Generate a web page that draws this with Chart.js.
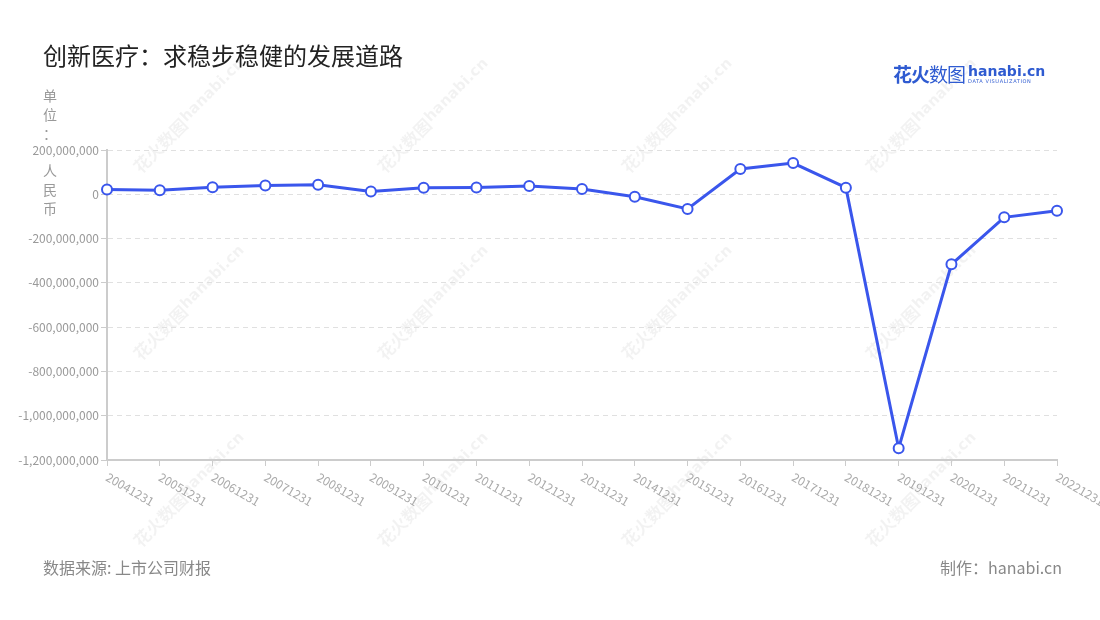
<!DOCTYPE html>
<html>
<head>
<meta charset="utf-8">
<script src="https://cdn.jsdelivr.net/npm/chart.js@4"></script>
<style>
  body { margin: 0; background: #fff; font-family: "Noto Sans CJK SC", "Noto Sans", sans-serif; }
  #wrap { position: relative; width: 1100px; height: 620px; overflow: hidden; }
  #c { position: absolute; left: 0; top: 0; }
  .title { position: absolute; left: 43px; top: 37px; font-size: 24px; color: #222; }
  .logo { position: absolute; left: 893px; top: 60px; white-space: nowrap; }
  .logo .cn { font-size: 19px; font-weight: bold; color: #2f5bd1; letter-spacing: -1px; vertical-align: top; }
  .logo .cn span { font-weight: normal; }
  .logo .en { display: inline-block; margin-left: 3px; vertical-align: top; line-height: 1; }
  .logo .en b { font-family: "DejaVu Sans", sans-serif; font-size: 14px; color: #2f5bd1; display: block; margin-top: 4px; }
  .logo .en i { font-style: normal; font-family: "DejaVu Sans", sans-serif; font-size: 5px; color: #2f5bd1; letter-spacing: 0.6px; display: block; margin-top: 1px; }
  .foot { position: absolute; top: 555px; font-size: 16px; color: #888; }
</style>
</head>
<body>
<div id="wrap">
  <canvas id="c" width="1100" height="620"></canvas>
  <div class="title">创新医疗：求稳步稳健的发展道路</div>
  <div class="logo"><span class="cn">花火<span>数图</span></span><span class="en"><b>hanabi.cn</b><i>DATA VISUALIZATION</i></span></div>
  <div class="foot" style="left:43px">数据来源: 上市公司财报</div>
  <div class="foot" style="right:38px">制作：hanabi.cn</div>
</div>
<script>
const labels = ["20041231", "20051231", "20061231", "20071231", "20081231", "20091231", "20101231",
  "20111231", "20121231", "20131231", "20141231", "20151231", "20161231", "20171231", "20181231",
  "20191231", "20201231", "20211231", "20221231"];
const netProfit = [22000000, 18000000, 32000000, 40000000, 43000000, 13000000, 30000000,
  31000000, 37000000, 24000000, -11000000, -66000000, 114000000, 141000000, 30000000,
  -1147000000, -316000000, -104000000, -74000000];
const yTitle = "单位： 人民币";

const ctx = document.getElementById("c");

// watermark behind everything
const watermark = {
  id: "watermark",
  beforeDraw(chart) {
    const c = chart.ctx;
    c.save();
    c.fillStyle = "rgba(0,0,0,0.05)";
    for (const y of [123, 310, 497]) {
      for (const x of [183, 427, 671, 915]) {
        c.save();
        c.translate(x, y);
        c.rotate(-Math.PI / 4);
        c.textAlign = "center";
        c.textBaseline = "middle";
        c.font = "bold 17px 'Noto Sans CJK SC'";
        c.fillText("花火数图", -32, 0);
        c.font = "bold 15px 'DejaVu Sans'";
        c.fillText("hanabi.cn", 44, -2);
        c.restore();
      }
    }
    c.restore();
  }
};

// rotated x labels hanging down-right from each tick, and the vertical unit title
const extras = {
  id: "extras",
  afterDraw(chart) {
    const c = chart.ctx;
    const xs = chart.scales.x;
    c.save();
    c.font = "12px 'Noto Sans CJK SC'";
    c.fillStyle = "#aaa";
    c.textAlign = "left";
    c.textBaseline = "middle";
    labels.forEach((lab, i) => {
      const x = xs.getPixelForTick(i);
      c.save();
      c.translate(x, xs.top + 16);
      c.rotate(Math.PI / 6);
      c.fillText(lab, 0, 0);
      c.restore();
    });
    c.font = "14px 'Noto Sans CJK SC'";
    c.fillStyle = "#999";
    c.textAlign = "center";
    [...yTitle].forEach((ch, i) => {
      c.fillText(ch, 50, 96 + i * 18.7);
    });
    c.restore();
  }
};

new Chart(ctx, {
  type: "line",
  data: {
    labels: labels,
    datasets: [
      {
        label: "净利润",
        data: netProfit,
        borderColor: "#3a56ec",
        borderWidth: 3,
        backgroundColor: "#fff",
        pointBackgroundColor: "#fff",
        pointBorderColor: "#3a56ec",
        pointBorderWidth: 2,
        pointRadius: 5,
        tension: 0,
        fill: false
      }
    ]
  },
  options: {
    responsive: false,
    animation: false,
    layout: { padding: { left: 0, top: 150, right: 43, bottom: 150 } },
    plugins: {
      legend: { display: false },
      tooltip: { enabled: false }
    },
    scales: {
      x: {
        offset: false,
        grid: { drawOnChartArea: false, drawTicks: true, tickLength: 6, color: "#ccc" },
        border: { color: "#ccc", width: 2 },
        ticks: { display: false },
        afterFit: (s) => { s.height = 10; }
      },
      y: {
        min: -1200000000,
        max: 200000000,
        grid: { color: "#e0e0e0", tickColor: "#ccc", tickLength: 6, tickBorderDash: [] },
        border: { color: "#ccc", width: 2, dash: [5, 4] },
        ticks: {
          stepSize: 200000000,
          color: "#999",
          padding: 2,
          font: { size: 12, family: "'Noto Sans CJK SC'" },
          callback: (v) => v.toLocaleString("en-US")
        },
        afterFit: (s) => { s.width = 107; }
      }
    }
  },
  plugins: [watermark, extras]
});
</script>
</body>
</html>
